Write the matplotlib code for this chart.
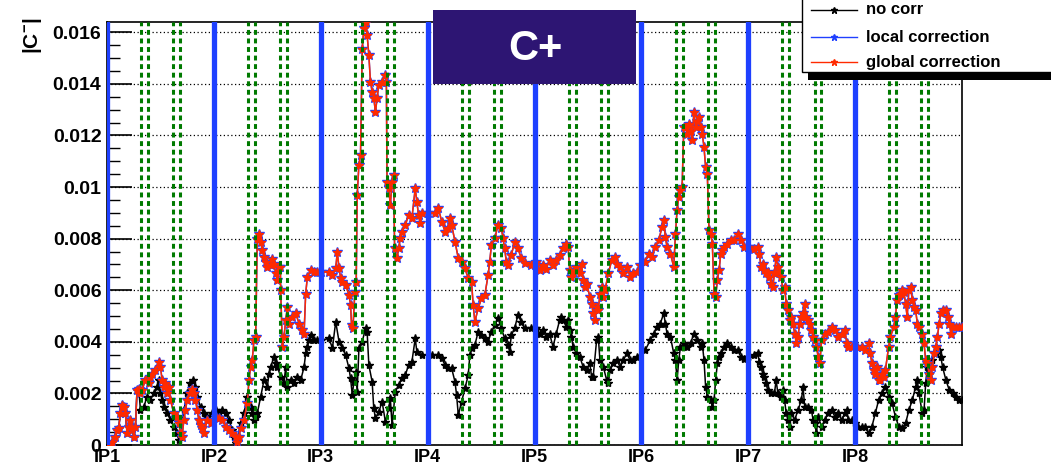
import matplotlib
matplotlib.use("Agg")
import matplotlib.pyplot as plt
from matplotlib.patches import Rectangle
from matplotlib.lines import Line2D
from matplotlib.ticker import MultipleLocator, FuncFormatter

plt.rcParams['font.family'] = ['Liberation Sans', 'DejaVu Sans']
plt.rcParams['mathtext.fontset'] = 'custom'
plt.rcParams['mathtext.bf'] = 'Liberation Sans:bold'

# ring position in units of one octant (IP1 = 0 ... end of ring = 8), |C-| in units of 1e-3
ip_labels = ["IP1", "IP2", "IP3", "IP4", "IP5", "IP6", "IP7", "IP8"]
# corrector positions, as a fraction of an octant after each IP
corrector_offsets = [0.32, 0.385, 0.62, 0.685]

nocorr_s = [
    0.0, 0.016, 0.047, 0.078, 0.094, 0.109, 0.125, 0.141, 0.156, 0.172, 0.188, 0.203, 0.219, 0.234, 0.25, 0.266, 0.281, 0.297,
    0.313, 0.344, 0.375, 0.406, 0.438, 0.469, 0.484, 0.5, 0.516, 0.531, 0.563, 0.594, 0.625, 0.656, 0.672, 0.688, 0.719, 0.75,
    0.781, 0.806, 0.828, 0.844, 0.875, 0.906, 0.938, 0.984,
    1.016, 1.047, 1.078, 1.109, 1.141, 1.172, 1.188, 1.203, 1.219, 1.25, 1.281, 1.313, 1.344, 1.359, 1.375, 1.391, 1.406, 1.438,
    1.469, 1.5, 1.516, 1.531, 1.563, 1.578, 1.594, 1.625, 1.656, 1.672, 1.688, 1.719, 1.75, 1.781, 1.813, 1.844, 1.859, 1.875,
    1.891, 1.906, 1.938, 1.969, 2.0,
    2.078, 2.109, 2.140, 2.171, 2.202, 2.233, 2.264, 2.279, 2.295, 2.310, 2.326, 2.341, 2.357, 2.388, 2.419, 2.434, 2.450, 2.481,
    2.496, 2.512, 2.543, 2.574, 2.605, 2.636, 2.651, 2.667, 2.698, 2.729, 2.760, 2.791, 2.822, 2.853, 2.884, 2.899, 2.946,
    3.039, 3.101, 3.132, 3.163, 3.194, 3.225, 3.256, 3.271, 3.287, 3.318, 3.349, 3.380, 3.395, 3.411, 3.442, 3.473, 3.504, 3.535,
    3.566, 3.597, 3.628, 3.659, 3.690, 3.721, 3.752, 3.767, 3.783, 3.814, 3.845, 3.876, 3.907, 3.969, 4.0,
    4.016, 4.047, 4.078, 4.110, 4.141, 4.173, 4.204, 4.235, 4.251, 4.267, 4.298, 4.314, 4.330, 4.345, 4.361, 4.392, 4.424, 4.455,
    4.487, 4.518, 4.534, 4.549, 4.581, 4.597, 4.612, 4.644, 4.675, 4.691, 4.706, 4.738, 4.769, 4.801, 4.832, 4.863, 4.895, 4.926,
    4.958,
    5.036, 5.083, 5.115, 5.146, 5.177, 5.209, 5.224, 5.240, 5.272, 5.303, 5.319, 5.334, 5.350, 5.366, 5.397, 5.429, 5.460, 5.491,
    5.523, 5.554, 5.570, 5.586, 5.601, 5.617, 5.648, 5.664, 5.680, 5.695, 5.711, 5.727, 5.743, 5.774, 5.805, 5.837, 5.868, 5.900,
    5.931, 5.962, 5.994,
    6.0, 6.057, 6.088, 6.104, 6.119, 6.135, 6.151, 6.167, 6.182, 6.214, 6.245, 6.261, 6.277, 6.308, 6.324, 6.340, 6.355, 6.371,
    6.387, 6.403, 6.434, 6.465, 6.497, 6.513, 6.528, 6.560, 6.591, 6.607, 6.623, 6.638, 6.654, 6.686, 6.717, 6.748, 6.780, 6.811,
    6.843, 6.874, 6.906, 6.921, 6.937, 6.969,
    7.0, 7.031, 7.063, 7.094, 7.126, 7.157, 7.189, 7.220, 7.252, 7.283, 7.314, 7.346, 7.377, 7.409, 7.440, 7.472, 7.503, 7.535,
    7.566, 7.582, 7.597, 7.629, 7.645, 7.660, 7.676, 7.692, 7.723, 7.755, 7.786, 7.802, 7.818, 7.849, 7.881, 7.912, 7.943, 7.975,
    8.0,
]
nocorr_c = [
    0.0, 0.0, 0.13, 0.32, 0.58, 0.65, 1.23, 1.55, 1.48, 1.23, 0.45, 0.71, 0.97, 0.65, 0.32, 0.71, 2.13, 2.19,
    1.35, 1.48, 1.87, 1.74, 2.00, 2.26, 2.52, 2.00, 1.74, 1.48, 1.23, 0.97, 0.71, 0.45, 0.19, 0.32, 1.35, 2.00,
    2.39, 2.52, 2.26, 1.87, 1.48, 1.23, 1.10, 1.23,
    1.35, 1.23, 1.35, 1.23, 0.97, 0.58, 0.32, 0.06, 0.19, 0.84, 1.23, 1.87, 1.48, 1.23, 0.97, 1.10, 1.23, 1.87,
    2.52, 2.26, 2.77, 3.03, 3.42, 3.16, 3.03, 2.65, 2.39, 3.03, 2.26, 2.52, 2.39, 2.65, 2.52, 3.03, 3.55, 3.81,
    4.06, 4.26, 4.06, 4.06, 4.06,
    4.13, 3.75, 4.78, 4.01, 3.75, 3.49, 2.97, 2.58, 1.94, 2.45, 2.84, 2.07, 3.75, 4.01, 4.52, 4.39, 3.10, 2.45,
    1.42, 1.03, 1.29, 1.68, 0.90, 1.42, 1.81, 0.78, 2.07, 2.33, 2.58, 2.71, 3.10, 3.23, 4.13, 3.62, 3.49,
    3.49, 3.49, 3.36, 3.10, 2.97, 2.97, 2.45, 1.94, 1.16, 1.68, 2.20, 2.71, 3.49, 3.75, 3.88, 4.39, 4.26, 4.13,
    4.01, 4.39, 4.65, 4.91, 4.52, 4.13, 3.88, 3.62, 4.26, 4.52, 5.04, 4.78, 4.52, 4.52, 4.52,
    4.52, 4.32, 4.45, 4.19, 4.32, 3.81, 4.32, 4.84, 4.97, 4.84, 4.58, 4.84, 4.45, 4.19, 3.81, 3.55, 3.42, 3.03,
    2.90, 3.16, 2.65, 2.65, 4.06, 4.19, 3.29, 3.03, 2.52, 2.39, 2.90, 3.16, 3.29, 3.03, 3.29, 3.55, 3.29, 3.29,
    3.42,
    3.68, 4.06, 4.32, 4.58, 4.71, 5.10, 4.71, 4.32, 4.19, 3.55, 3.29, 2.52, 3.29, 3.81, 3.94, 3.81, 3.94, 4.32,
    4.06, 3.81, 3.94, 3.29, 2.26, 1.87, 1.74, 1.48, 1.74, 2.52, 3.16, 3.42, 3.55, 3.81, 3.94, 3.81, 3.68, 3.68,
    3.42, 3.35, 3.42,
    3.42, 3.48, 3.55, 3.23, 3.03, 2.77, 2.65, 2.39, 2.13, 2.00, 2.00, 2.52, 2.00, 1.87, 2.13, 1.74, 1.23, 0.97,
    0.71, 1.23, 0.97, 1.35, 1.74, 2.26, 1.48, 1.48, 1.35, 0.97, 0.84, 0.45, 1.10, 0.71, 0.97, 1.23, 1.35, 1.10,
    1.23, 0.97, 1.23, 1.35, 0.97, 0.97,
    0.84, 0.71, 0.71, 0.71, 0.45, 0.71, 1.23, 1.74, 2.00, 2.26, 1.87, 1.61, 1.10, 0.71, 0.65, 0.84, 1.35, 1.74,
    2.26, 2.52, 2.00, 1.23, 1.35, 2.39, 3.03, 2.77, 3.29, 3.55, 3.68, 3.42, 3.03, 2.52, 2.13, 2.00, 1.87, 1.74,
    1.74,
]

global_s = [
    0.0, 0.016, 0.047, 0.078, 0.094, 0.109, 0.125, 0.141, 0.156, 0.172, 0.188, 0.203, 0.219, 0.234, 0.25, 0.266, 0.281, 0.297,
    0.313, 0.328, 0.359, 0.391, 0.406, 0.422, 0.453, 0.484, 0.5, 0.516, 0.531, 0.547, 0.563, 0.578, 0.594, 0.625, 0.656, 0.672,
    0.688, 0.703, 0.719, 0.734, 0.75, 0.781, 0.797, 0.813, 0.828, 0.844, 0.859, 0.875, 0.891, 0.906, 0.938, 0.969,
    1.016, 1.047, 1.078, 1.109, 1.141, 1.172, 1.203, 1.219, 1.234, 1.25, 1.281, 1.313, 1.328, 1.344, 1.359, 1.375, 1.391, 1.406,
    1.422, 1.438, 1.453, 1.469, 1.484, 1.5, 1.531, 1.547, 1.563, 1.578, 1.594, 1.609, 1.622, 1.625, 1.641, 1.656, 1.672, 1.688,
    1.703, 1.734, 1.766, 1.797, 1.828, 1.844, 1.859, 1.875, 1.906, 1.938, 1.969, 2.0,
    2.078, 2.109, 2.140, 2.155, 2.171, 2.186, 2.202, 2.233, 2.264, 2.279, 2.288, 2.301, 2.319, 2.332, 2.341, 2.357, 2.372, 2.388,
    2.403, 2.419, 2.434, 2.450, 2.465, 2.481, 2.496, 2.512, 2.527, 2.543, 2.574, 2.605, 2.614, 2.620, 2.636, 2.651, 2.667, 2.682,
    2.691, 2.713, 2.729, 2.744, 2.760, 2.791, 2.822, 2.853, 2.884, 2.899, 2.915, 2.930, 2.946,
    3.008, 3.070, 3.101, 3.132, 3.163, 3.194, 3.209, 3.225, 3.256, 3.287, 3.318, 3.349, 3.380, 3.411, 3.426, 3.442, 3.473, 3.504,
    3.535, 3.566, 3.581, 3.597, 3.628, 3.659, 3.690, 3.705, 3.721, 3.736, 3.752, 3.783, 3.814, 3.845, 3.876, 3.907, 3.969, 4.0,
    4.016, 4.047, 4.078, 4.110, 4.141, 4.173, 4.204, 4.235, 4.267, 4.298, 4.314, 4.330, 4.345, 4.361, 4.392, 4.424, 4.440, 4.455,
    4.471, 4.487, 4.518, 4.534, 4.549, 4.565, 4.581, 4.597, 4.612, 4.628, 4.644, 4.659, 4.691, 4.722, 4.754, 4.769, 4.801, 4.832,
    4.863, 4.895, 4.926, 4.958, 4.989,
    5.036, 5.068, 5.099, 5.130, 5.162, 5.193, 5.209, 5.224, 5.240, 5.272, 5.303, 5.319, 5.334, 5.350, 5.366, 5.381, 5.397, 5.413,
    5.429, 5.444, 5.460, 5.476, 5.491, 5.507, 5.523, 5.538, 5.554, 5.570, 5.586, 5.601, 5.617, 5.633, 5.648, 5.664, 5.680, 5.695,
    5.711, 5.727, 5.743, 5.758, 5.774, 5.805, 5.837, 5.868, 5.900, 5.931, 5.962, 5.994,
    6.0, 6.057, 6.088, 6.104, 6.119, 6.135, 6.151, 6.167, 6.182, 6.198, 6.214, 6.230, 6.245, 6.261, 6.277, 6.292, 6.308, 6.324,
    6.340, 6.355, 6.371, 6.387, 6.403, 6.418, 6.434, 6.450, 6.465, 6.481, 6.497, 6.513, 6.528, 6.544, 6.560, 6.575, 6.591, 6.607,
    6.623, 6.638, 6.654, 6.670, 6.686, 6.717, 6.748, 6.780, 6.811, 6.843, 6.874, 6.906, 6.921, 6.937, 6.969,
    7.016, 7.063, 7.094, 7.126, 7.142, 7.157, 7.173, 7.189, 7.204, 7.220, 7.236, 7.252, 7.267, 7.283, 7.314, 7.330, 7.362, 7.377,
    7.393, 7.409, 7.425, 7.440, 7.456, 7.472, 7.487, 7.503, 7.519, 7.535, 7.550, 7.566, 7.582, 7.597, 7.629, 7.645, 7.660, 7.676,
    7.692, 7.708, 7.723, 7.739, 7.755, 7.770, 7.786, 7.802, 7.818, 7.849, 7.865, 7.881, 7.896, 7.912, 7.943, 7.975, 8.0,
]
global_c = [
    0.0, 0.0, 0.13, 0.32, 0.58, 0.65, 1.23, 1.55, 1.48, 1.23, 0.45, 0.71, 0.97, 0.65, 0.32, 0.71, 2.13, 2.19,
    2.00, 2.13, 2.52, 2.39, 2.65, 2.77, 2.90, 3.23, 3.03, 2.52, 2.26, 2.39, 2.00, 2.26, 1.74, 1.23, 1.10, 0.84,
    0.45, 0.32, 0.97, 1.35, 1.74, 2.00, 2.19, 2.00, 1.74, 1.35, 0.97, 0.77, 0.65, 0.45, 0.97, 0.84,
    1.10, 1.03, 0.97, 0.71, 0.58, 0.45, 0.32, 0.13, 0.32, 0.65, 0.97, 1.61, 2.52, 3.03, 3.29, 4.06, 4.19, 8.00,
    8.19, 7.87, 7.55, 7.29, 7.10, 6.90, 6.97, 7.23, 7.03, 6.65, 6.39, 6.90, 6.90, 6.00, 3.81, 4.19, 4.84, 5.35,
    4.71, 4.97, 5.10, 4.71, 4.45, 4.32, 5.87, 6.52, 6.77, 6.71, 6.71, 6.71,
    6.72, 6.59, 6.85, 7.49, 6.85, 6.46, 6.33, 6.20, 5.81, 5.43, 4.65, 4.52, 5.94, 6.33, 9.69, 10.85, 11.24, 15.37,
    16.15, 16.41, 15.89, 15.12, 14.08, 13.70, 13.44, 12.92, 13.44, 13.95, 14.08, 14.34, 14.08, 10.21, 9.95, 9.30, 10.21, 10.47,
    7.62, 7.24, 7.62, 8.01, 8.27, 8.53, 8.91, 8.79, 9.95, 9.43, 8.91, 8.59, 8.98,
    8.98, 8.98, 9.17, 8.66, 8.27, 8.40, 8.79, 8.53, 7.88, 7.24, 7.11, 6.85, 6.46, 6.33, 5.43, 4.78, 5.30, 5.68,
    5.81, 6.59, 7.11, 7.75, 8.01, 8.53, 8.40, 8.01, 7.62, 7.11, 6.98, 7.36, 7.88, 7.62, 7.24, 7.04, 6.98, 6.98,
    7.10, 6.77, 6.97, 6.84, 7.16, 6.97, 7.16, 7.36, 7.62, 7.81, 7.68, 6.77, 6.52, 6.65, 6.90, 6.65, 7.03, 6.39,
    6.13, 6.26, 5.74, 5.48, 5.10, 4.84, 5.35, 5.23, 5.87, 6.13, 5.74, 6.00, 6.65, 7.16, 7.29, 7.03, 6.90, 6.65,
    6.90, 6.52, 6.65, 6.71, 6.97,
    7.10, 7.42, 7.29, 7.68, 7.94, 8.45, 8.71, 8.06, 7.68, 7.42, 6.90, 8.19, 9.10, 9.61, 9.87, 10.00, 12.32, 12.32,
    12.06, 12.45, 12.19, 11.81, 12.90, 12.32, 12.58, 12.71, 12.32, 12.06, 11.55, 10.77, 10.52, 8.32, 8.19, 7.81, 5.87, 5.74,
    6.39, 6.77, 7.42, 7.55, 7.68, 7.81, 7.94, 7.94, 8.19, 7.94, 7.68, 7.68,
    7.68, 7.61, 7.68, 7.42, 6.90, 7.03, 6.77, 6.65, 6.71, 6.52, 6.26, 6.13, 6.65, 7.29, 6.90, 6.71, 6.52, 6.00,
    6.13, 5.48, 5.23, 4.84, 4.97, 4.71, 4.32, 3.94, 4.19, 4.71, 4.97, 5.10, 5.48, 4.97, 4.84, 4.71, 4.45, 4.19,
    4.06, 3.81, 3.42, 3.16, 4.06, 4.32, 4.39, 4.58, 4.45, 4.19, 4.32, 4.45, 3.94, 3.81, 3.81,
    3.81, 3.81, 3.68, 3.94, 3.55, 3.16, 2.90, 2.77, 3.03, 2.52, 2.52, 2.77, 2.65, 2.90, 3.81, 4.19, 4.58, 4.97,
    5.61, 5.81, 5.87, 6.00, 5.94, 5.48, 4.97, 6.00, 6.13, 5.61, 5.35, 5.23, 4.71, 4.58, 4.32, 3.94, 3.29, 3.16,
    2.77, 2.52, 3.03, 3.55, 3.81, 4.19, 4.71, 5.10, 5.23, 5.23, 4.97, 4.71, 4.32, 4.58, 4.58, 4.58, 4.58,
]
# local correction lies on top of the global one everywhere within reading precision
local_s = global_s
local_c = global_c

fig = plt.figure(figsize=(10.51, 4.69), dpi=100)
ax = fig.add_axes([107 / 1051, 1 - 445 / 469, 855 / 1051, 423 / 469])

ax.plot(nocorr_s, nocorr_c, color="black", lw=1.1, marker="*", ms=6, zorder=3)
ax.plot(local_s, local_c, color="#2040ff", lw=1.1, marker="*", ms=7.5, zorder=4)
ax.plot(global_s, global_c, color="#ff2a00", lw=1.1, marker="*", ms=6, zorder=5)

for i in range(len(ip_labels)):
    for off in corrector_offsets:
        ax.axvline(i + off, color="#007a00", lw=2.2, linestyle=(0, (1.6, 1.2)), zorder=6)
    ax.axvline(i, color="#1e40ff", lw=3.8, zorder=7)

ax.set_xlim(0, 8)
ax.set_ylim(0, 16.4)
ax.set_xticks(range(len(ip_labels)))
ax.set_xticklabels(ip_labels, fontsize=13, fontweight="bold")
ax.tick_params(axis="x", length=0, pad=3)

ax.yaxis.set_major_locator(MultipleLocator(2))
ax.yaxis.set_minor_locator(MultipleLocator(0.5))
ax.yaxis.set_major_formatter(FuncFormatter(lambda v, _: f"{v / 1000:g}"))
ax.tick_params(axis="y", which="major", direction="in", length=18, width=1.2, labelsize=14, pad=4)
ax.tick_params(axis="y", which="minor", direction="in", length=9, width=1.0)
for lab in ax.get_yticklabels():
    lab.set_fontweight("bold")

ax.yaxis.grid(True, which="major", color="black", linestyle=(0, (1, 2)), lw=0.9)
ax.set_axisbelow(True)
for sp in ax.spines.values():
    sp.set_linewidth(1.2)

fig.text(33 / 1051, 1 - 18 / 469, r"$\mathbf{|C^{-}|}$", rotation=90, ha="center", va="top",
         fontsize=15)

# title box
fig.add_artist(Rectangle((433 / 1051, 1 - 84 / 469), 203 / 1051, 74 / 469,
                         transform=fig.transFigure, facecolor="#2d1573", edgecolor="none", zorder=10))
fig.text(535 / 1051, 1 - 49 / 469, "C+", color="white", fontsize=30, fontweight="bold",
         ha="center", va="center", zorder=11)

# legend box with shadow
fig.add_artist(Rectangle((808 / 1051, 1 - 80 / 469), 260 / 1051, 100 / 469,
                         transform=fig.transFigure, facecolor="black", edgecolor="none", zorder=10))
fig.add_artist(Rectangle((802 / 1051, 1 - 72 / 469), 260 / 1051, 100 / 469,
                         transform=fig.transFigure, facecolor="white", edgecolor="black", lw=1.0, zorder=11))
legend_rows = [("no corr", "black", 10), ("local correction", "#2040ff", 37), ("global correction", "#ff2a00", 62)]
for text, col, ypx in legend_rows:
    yf = 1 - ypx / 469
    fig.add_artist(Line2D([811 / 1051, 857 / 1051], [yf, yf], transform=fig.transFigure,
                          color=col, lw=1.0, zorder=12))
    fig.add_artist(Line2D([834 / 1051], [yf], transform=fig.transFigure, color=col,
                          marker="*", ms=5, zorder=12))
    fig.text(866 / 1051, yf, text, fontsize=12, fontweight="bold", ha="left", va="center", zorder=12)

fig.savefig("out.png", dpi=100)
